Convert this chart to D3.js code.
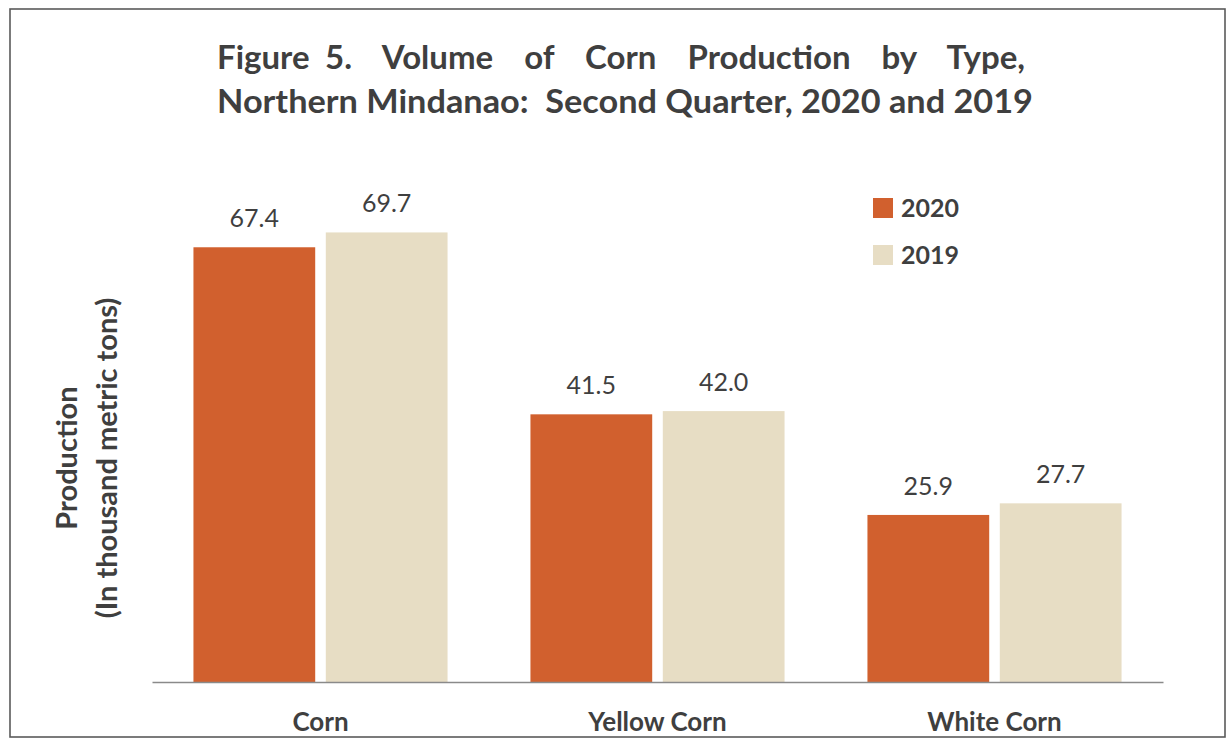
<!DOCTYPE html>
<html>
<head>
<meta charset="utf-8">
<script src="https://cdn.jsdelivr.net/npm/d3@7"></script>
<style>
  html, body { margin: 0; padding: 0; background: #ffffff; }
  svg { display: block; }
</style>
</head>
<body>
<svg id="chart" width="1228" height="739"></svg>
<script>
// Corn production by type, Northern Mindanao, Q2 2020 vs 2019 (thousand metric tons)
const categories = ["Corn", "Yellow Corn", "White Corn"];
const years = ["2020", "2019"];
const values2020 = [67.4, 41.5, 25.9];
const values2019 = [69.7, 42.0, 27.7];
const titleLines = [
  "Figure 5.  Volume  of  Corn  Production  by  Type,",
  "Northern Mindanao:  Second Quarter, 2020 and 2019"
];
const yTitleLines = ["Production", "(In thousand metric tons)"];

const colors = { "2020": "#d1602e", "2019": "#e7ddc4" };
const textColor = "#3f3f3f";
const font = "Lato, 'Open Sans', sans-serif";

const rows = categories.map((c, i) => ({
  category: c,
  values: [
    { year: "2020", value: values2020[i] },
    { year: "2019", value: values2019[i] }
  ]
}));

const svg = d3.select("#chart");

// frame
svg.append("rect")
  .attr("x", 10).attr("y", 9)
  .attr("width", 1215).attr("height", 728)
  .attr("fill", "#ffffff")
  .attr("stroke", "#5a5a5a").attr("stroke-width", 1.6);

const plot = { left: 152, right: 1163, base: 682 };

const x0 = d3.scaleBand()
  .domain(categories)
  .range([plot.left, plot.right])
  .paddingInner(0.246)
  .paddingOuter(0.123);

const x1 = d3.scaleBand()
  .domain(years)
  .range([0, x0.bandwidth()])
  .paddingInner(0.08);

const y = d3.scaleLinear()
  .domain([0, 80])
  .range([plot.base, plot.base - 80 * 6.45]);

// title: first line justified by widening word gaps, second fitted to width
const titleWidths = [808, 816];
svg.append("g").selectAll("text")
  .data(titleLines)
  .join("text")
  .attr("x", 217)
  .attr("y", (d, i) => 69 + i * 44)
  .style("white-space", "pre")
  .attr("font-family", font)
  .attr("font-weight", "bold")
  .attr("font-size", 33)
  .attr("fill", textColor)
  .text(d => d)
  .each(function (d, i) {
    const natural = this.getComputedTextLength();
    const target = titleWidths[i];
    if (i === 0 && natural < target) {
      const gaps = (d.match(/ /g) || []).length;
      d3.select(this).attr("word-spacing", (target - natural) / gaps);
    } else {
      d3.select(this).attr("textLength", target).attr("lengthAdjust", "spacingAndGlyphs");
    }
  });

// bars
const groups = svg.append("g").selectAll("g")
  .data(rows)
  .join("g")
  .attr("transform", d => `translate(${x0(d.category)},0)`);

groups.selectAll("rect")
  .data(d => d.values)
  .join("rect")
  .attr("x", d => x1(d.year))
  .attr("y", d => y(d.value))
  .attr("width", x1.bandwidth())
  .attr("height", d => y(0) - y(d.value))
  .attr("fill", d => colors[d.year]);

groups.selectAll("text.val")
  .data(d => d.values)
  .join("text")
  .attr("class", "val")
  .attr("x", d => x1(d.year) + x1.bandwidth() / 2)
  .attr("y", d => y(d.value) - 20)
  .attr("text-anchor", "middle")
  .attr("font-family", font)
  .attr("font-size", 25)
  .attr("fill", textColor)
  .text(d => d.value.toFixed(1));

// baseline / category axis
const xAxis = d3.axisBottom(x0).tickSize(0);
const axisG = svg.append("g")
  .attr("transform", `translate(0,${plot.base})`)
  .call(xAxis);
axisG.select(".domain").attr("stroke", "#8a8a8a").attr("stroke-width", 1.4);
axisG.selectAll(".tick text")
  .attr("y", 49)
  .attr("dy", null)
  .attr("font-family", font)
  .attr("font-weight", "bold")
  .attr("font-size", 26)
  .attr("fill", textColor);

// y-axis title
svg.append("g")
  .attr("transform", "translate(86,458) rotate(-90)")
  .selectAll("text")
  .data(yTitleLines)
  .join("text")
  .attr("x", 0)
  .attr("y", (d, i) => -9 + i * 40)
  .attr("text-anchor", "middle")
  .attr("font-family", font)
  .attr("font-weight", "bold")
  .attr("font-size", 29)
  .attr("fill", textColor)
  .text(d => d);

// legend
const legend = svg.append("g").attr("transform", "translate(873,198)");
const li = legend.selectAll("g")
  .data(years)
  .join("g")
  .attr("transform", (d, i) => `translate(0,${i * 47})`);
li.append("rect")
  .attr("width", 20).attr("height", 20)
  .attr("fill", d => colors[d]);
li.append("text")
  .attr("x", 28).attr("y", 19)
  .attr("font-family", font)
  .attr("font-weight", "bold")
  .attr("font-size", 25)
  .attr("fill", textColor)
  .text(d => d);
</script>
</body>
</html>
